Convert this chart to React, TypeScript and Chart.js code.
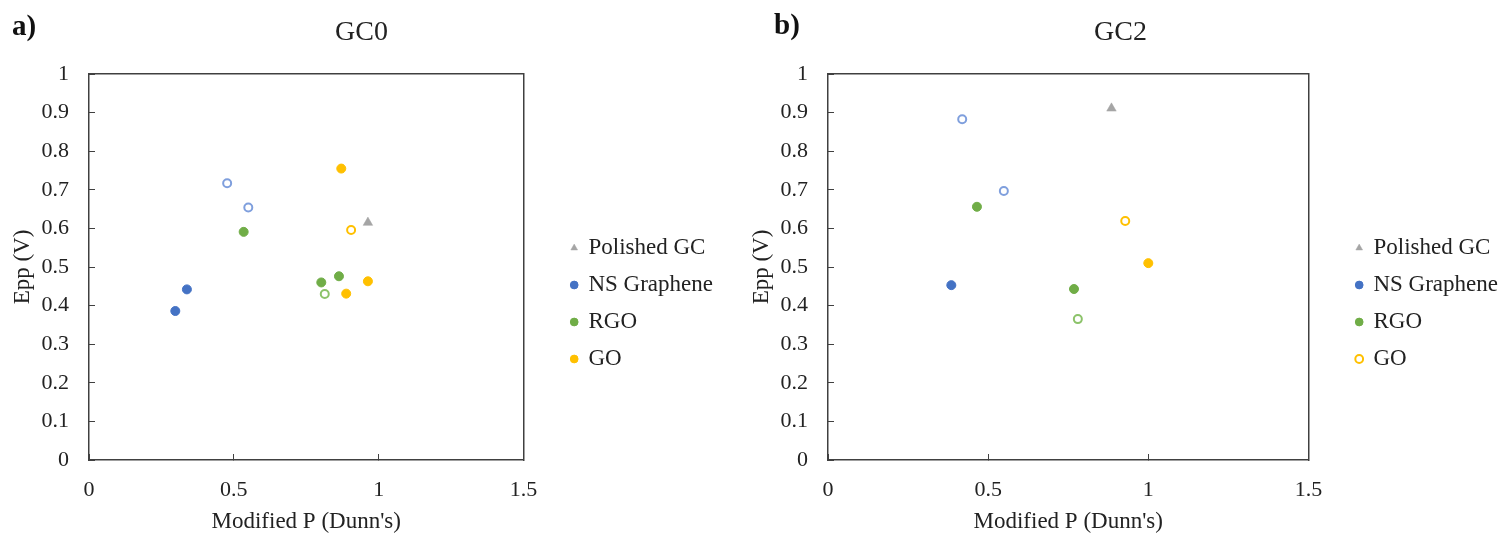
import React, { useEffect, useRef } from 'react';
import { Chart, registerables } from 'chart.js';

Chart.register(...registerables);

const FONT = '"Liberation Serif", "Times New Roman", Times, serif';
const TEXT = '#222222';
const AXIS = '#404040';

const SERIES_NAMES = ['Polished GC', 'NS Graphene', 'RGO', 'GO'];
const X_AXIS_TITLE = "Modified P (Dunn's)";
const Y_AXIS_TITLE = 'Epp (V)';
const X_RANGE = [0, 1.5];
const Y_RANGE = [0, 1];
const X_STEP = 0.5;
const Y_STEP = 0.1;

// ---- GC0 (panel a) ----
const gc0PolishedX = [0.963];
const gc0PolishedY = [0.615];
const gc0NsFilledX = [0.298, 0.338];
const gc0NsFilledY = [0.386, 0.442];
const gc0NsOpenX = [0.477, 0.55];
const gc0NsOpenY = [0.717, 0.654];
const gc0RgoFilledX = [0.534, 0.802, 0.863];
const gc0RgoFilledY = [0.591, 0.46, 0.476];
const gc0RgoOpenX = [0.814];
const gc0RgoOpenY = [0.43];
const gc0GoFilledX = [0.871, 0.888, 0.963];
const gc0GoFilledY = [0.755, 0.431, 0.463];
const gc0GoOpenX = [0.905];
const gc0GoOpenY = [0.596];

// ---- GC2 (panel b) ----
const gc2PolishedX = [0.885];
const gc2PolishedY = [0.911];
const gc2NsFilledX = [0.385];
const gc2NsFilledY = [0.453];
const gc2NsOpenX = [0.419, 0.549];
const gc2NsOpenY = [0.883, 0.697];
const gc2RgoFilledX = [0.465, 0.768];
const gc2RgoFilledY = [0.656, 0.443];
const gc2RgoOpenX = [0.78];
const gc2RgoOpenY = [0.365];
const gc2GoFilledX = [1.0];
const gc2GoFilledY = [0.51];
const gc2GoOpenX = [0.928];
const gc2GoOpenY = [0.619];

const GRAY = '#A5A5A5';
const BLUE = '#4472C4';
const BLUE_OPEN = '#7F9FDD';
const GREEN = '#70AD47';
const GREEN_OPEN = '#8CC36A';
const GOLD = '#FFC000';

const pts = (xs: number[], ys: number[]) => xs.map((x, i) => ({ x, y: ys[i] }));

const triangle = (label: string, xs: number[], ys: number[]) => ({
  label,
  data: pts(xs, ys),
  pointStyle: 'triangle',
  backgroundColor: GRAY,
  borderColor: GRAY,
  borderWidth: 0.5,
  pointRadius: 5.5,
  pointHoverRadius: 5.5,
});

const filled = (label: string, xs: number[], ys: number[], color: string) => ({
  label,
  data: pts(xs, ys),
  pointStyle: 'circle',
  backgroundColor: color,
  borderColor: color,
  borderWidth: 1,
  pointRadius: 4.5,
  pointHoverRadius: 4.5,
});

const open = (label: string, xs: number[], ys: number[], color: string) => ({
  label,
  data: pts(xs, ys),
  pointStyle: 'circle',
  backgroundColor: '#ffffff',
  borderColor: color,
  borderWidth: 2,
  pointRadius: 4,
  pointHoverRadius: 4,
});

const fmt = (v: number | string) => String(Number(Number(v).toFixed(1)));

function makeConfig(title: string, datasets: any[], yAxisWidth: number, yTitlePadTop: number): any {
  return {
    type: 'scatter',
    data: { datasets },
    options: {
      responsive: false,
      animation: false,
      devicePixelRatio: 1,
      events: [],
      layout: { padding: 0 },
      plugins: {
        tooltip: { enabled: false },
        title: {
          display: true,
          text: title,
          color: TEXT,
          font: { family: FONT, size: 28, weight: 'normal', lineHeight: 1.2 },
          padding: { top: 16.2, bottom: 24.2 },
        },
        legend: {
          display: true,
          position: 'right',
          align: 'center',
          maxWidth: 400,
          title: { display: true, text: '', font: { size: 10, lineHeight: 1 }, padding: { top: 64, bottom: 0 } },
          labels: {
            usePointStyle: true,
            boxWidth: 5.5,
            boxHeight: 5.5,
            padding: 14,
            color: TEXT,
            font: { family: FONT, size: 23 },
            filter: (item: any) => item.text !== '',
          },
        },
      },
      scales: {
        x: {
          type: 'linear',
          position: 'bottom',
          min: X_RANGE[0],
          max: X_RANGE[1],
          ticks: {
            stepSize: X_STEP,
            padding: 23,
            color: TEXT,
            font: { family: FONT, size: 22 },
            callback: (v: number) => fmt(v),
          },
          grid: { display: true, drawOnChartArea: false, drawTicks: true, tickLength: -6, color: AXIS, lineWidth: 1 },
          border: { display: true, color: AXIS, width: 1.5 },
          title: {
            display: true,
            text: X_AXIS_TITLE,
            color: TEXT,
            font: { family: FONT, size: 23, lineHeight: 1 },
            padding: { top: 6.6, bottom: 0 },
          },
          afterFit: (s: any) => {
            s.height = 73;
          },
        },
        y: {
          type: 'linear',
          position: 'left',
          min: Y_RANGE[0],
          max: Y_RANGE[1],
          ticks: {
            stepSize: Y_STEP,
            padding: 26,
            color: TEXT,
            font: { family: FONT, size: 22 },
            callback: (v: number) => fmt(v),
          },
          grid: { display: true, drawOnChartArea: false, drawTicks: true, tickLength: -6, color: AXIS, lineWidth: 1 },
          border: { display: true, color: AXIS, width: 1.5 },
          title: {
            display: true,
            text: Y_AXIS_TITLE,
            color: TEXT,
            font: { family: FONT, size: 23, lineHeight: 1.2 },
            padding: { top: yTitlePadTop, bottom: 4.7 },
          },
          afterFit: (s: any) => {
            s.width = yAxisWidth;
          },
        },
        y2: {
          type: 'linear',
          position: 'right',
          min: Y_RANGE[0],
          max: Y_RANGE[1],
          ticks: { display: false },
          grid: { display: false, drawTicks: false },
          border: { display: true, color: AXIS, width: 1.5 },
          afterFit: (s: any) => {
            s.width = 34;
          },
        },
        x2: {
          type: 'linear',
          position: 'top',
          min: X_RANGE[0],
          max: X_RANGE[1],
          ticks: { display: false },
          grid: { display: false, drawTicks: false },
          border: { display: true, color: AXIS, width: 1.5 },
        },
      },
    },
  };
}

const gc0Datasets = [
  triangle(SERIES_NAMES[0], gc0PolishedX, gc0PolishedY),
  filled(SERIES_NAMES[1], gc0NsFilledX, gc0NsFilledY, BLUE),
  filled(SERIES_NAMES[2], gc0RgoFilledX, gc0RgoFilledY, GREEN),
  filled(SERIES_NAMES[3], gc0GoFilledX, gc0GoFilledY, GOLD),
  open('', gc0NsOpenX, gc0NsOpenY, BLUE_OPEN),
  open('', gc0RgoOpenX, gc0RgoOpenY, GREEN_OPEN),
  open('', gc0GoOpenX, gc0GoOpenY, GOLD),
];

const gc2Datasets = [
  triangle(SERIES_NAMES[0], gc2PolishedX, gc2PolishedY),
  filled(SERIES_NAMES[1], gc2NsFilledX, gc2NsFilledY, BLUE),
  filled(SERIES_NAMES[2], gc2RgoFilledX, gc2RgoFilledY, GREEN),
  open(SERIES_NAMES[3], gc2GoOpenX, gc2GoOpenY, GOLD),
  open('', gc2NsOpenX, gc2NsOpenY, BLUE_OPEN),
  open('', gc2RgoOpenX, gc2RgoOpenY, GREEN_OPEN),
  filled('', gc2GoFilledX, gc2GoFilledY, GOLD),
];

function Panel({ left, width, config }: { left: number; width: number; config: any }) {
  const ref = useRef<HTMLCanvasElement>(null);
  useEffect(() => {
    if (!ref.current) return;
    const chart = new Chart(ref.current, config);
    return () => chart.destroy();
  }, []);
  return (
    <canvas
      ref={ref}
      width={width}
      height={533}
      style={{ position: 'absolute', left, top: 0, width, height: 533 }}
    />
  );
}

const panelLabel: React.CSSProperties = {
  position: 'absolute',
  fontFamily: FONT,
  fontWeight: 'bold',
  fontSize: 29,
  lineHeight: 1,
  color: '#111',
};

export default function App() {
  return (
    <div
      style={{
        position: 'absolute',
        left: 0,
        top: 0,
        width: 1503,
        height: 533,
        overflow: 'hidden',
        background: '#ffffff',
      }}
    >
      <Panel left={0} width={723} config={makeConfig('GC0', gc0Datasets, 89, 9.2)} />
      <Panel left={733} width={775} config={makeConfig('GC2', gc2Datasets, 95, 15.2)} />
      <div style={{ ...panelLabel, left: 12, top: 11 }}>a)</div>
      <div style={{ ...panelLabel, left: 774, top: 10 }}>b)</div>
    </div>
  );
}
